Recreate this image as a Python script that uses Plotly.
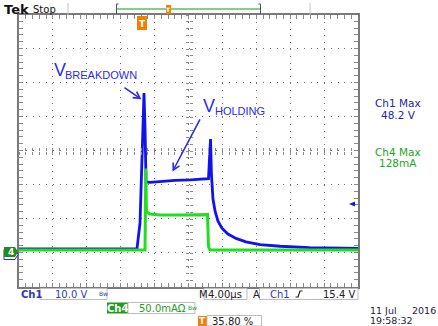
import math
import plotly.graph_objects as go

# Ch1: voltage (V) vs time (µs); 10 V/div, 4 µs/div
ch1_time_us = [-20.0, -6.08, -5.72, -5.37, -5.25, -5.13, -5.01, -4.54, -3.36, -1.59,
               0.18, 1.36, 2.36, 2.48, 2.60, 2.71, 2.89, 3.13, 3.48, 3.95,
               4.66, 5.60, 6.78, 8.44, 10.8, 14.3, 20.0]
ch1_volts = [0.35, 0.35, 8.0, 38.0, 46.2, 36.0, 20.0, 19.9, 20.2, 20.5,
             20.6, 20.8, 21.0, 27.0, 32.6, 22.0, 15.0, 11.5, 8.5, 6.4,
             4.7, 3.4, 2.4, 1.6, 1.1, 0.7, 0.45]
# Ch4: current (mA) vs time (µs); 50 mA/div
ch4_time_us = [-20.0, -5.13, -5.04, -4.96, -4.54, -3.36, -1.0, 1.36, 2.24, 2.36, 2.54, 20.0]
ch4_milliamps = [0.0, 0.0, 120.0, 56.0, 53.0, 51.5, 51.5, 51.5, 52.0, 5.0, 0.0, 0.0]

time_range_us = [-20, 20]
ch1_range_v = [-10.882, 69.118]
ch4_range_ma = [-54.41, 345.59]

readouts = {"ch1_scale": "10.0 V", "ch4_scale": "50.0mAΩ", "timebase": "4.00µs",
            "trig_level": "15.4 V", "trig_pos": "35.80 %",
            "ch1_max": "48.2 V", "ch4_max": "128mA",
            "date": "11 Jul", "year": "2016", "clock": "19:58:32"}

# ---------------- geometry helpers (pixel -> paper) ----------------
W, H = 438, 326
L, R, T, B = 19, 358, 15, 287


def px(x):
    return (x - L) / (R - L)


def py(y):
    return (B - y) / (B - T)


BLUE = "#1212ee"
GREEN = "#22dd22"
GRID = "#6e6e6e"
TICK = "#8a8a8a"
BORDER = "#7a7a7a"
DARK = "#202020"
TXTBLUE = "#2b3cb0"
TXTGREEN = "#2a9a2a"
ORANGE = "#f08000"
FONT = "DejaVu Sans"

# half a pixel in volts, so horizontal graticule dots fall on whole pixel rows
half_px_v = 0.5 * (ch1_range_v[1] - ch1_range_v[0]) / (B - T)
y_tick0 = ch1_range_v[0] + half_px_v

fig = go.Figure()
fig.add_trace(go.Scatter(x=ch1_time_us, y=ch1_volts, mode="lines",
                         line=dict(color=BLUE, width=2.8),
                         xaxis="x", yaxis="y", hoverinfo="skip"))
fig.add_trace(go.Scatter(x=ch4_time_us, y=ch4_milliamps, mode="lines",
                         line=dict(color=GREEN, width=3),
                         xaxis="x", yaxis="y2", hoverinfo="skip"))
# empty traces carrying the center crosshair tick axes
for xa, ya in [("x2", "y3"), ("x3", "y4")]:
    fig.add_trace(go.Scatter(x=[None], y=[None], xaxis=xa, yaxis=ya,
                             mode="lines", hoverinfo="skip"))

tick_style = dict(ticks="inside", ticklen=4, tickcolor=TICK, tickwidth=1,
                  showticklabels=False, zeroline=False)
cross = dict(showgrid=False, zeroline=False, showline=False, showticklabels=False,
             ticklen=3, tickcolor=TICK, anchor="free", position=0.5)

fig.update_layout(
    width=W, height=H, autosize=False,
    margin=dict(l=L, r=W - R, t=T, b=H - B, pad=0),
    paper_bgcolor="white", plot_bgcolor="white",
    showlegend=False, hovermode=False,
    xaxis=dict(range=time_range_us, tick0=0, dtick=4, showgrid=True,
               gridcolor=GRID, gridwidth=1, griddash="1px,5.8px",
               showline=True, linecolor=BORDER, linewidth=2, mirror="ticks",
               minor=dict(tick0=0, dtick=0.8, ticks="inside", ticklen=4,
                          tickcolor=TICK, showgrid=False),
               **tick_style),
    yaxis=dict(range=ch1_range_v, tick0=y_tick0, dtick=10, showgrid=True,
               gridcolor=GRID, gridwidth=1, griddash="1px,5.78px",
               showline=True, linecolor=BORDER, linewidth=2, mirror="ticks",
               minor=dict(tick0=y_tick0, dtick=2, ticks="inside", ticklen=4,
                          tickcolor=TICK, showgrid=False),
               **tick_style),
    yaxis2=dict(range=ch4_range_ma, overlaying="y", visible=False),
    xaxis2=dict(range=[-5, 5], overlaying="x", dtick=0.2, tick0=0, ticks="outside", **cross),
    xaxis3=dict(range=[-5, 5], overlaying="x", dtick=0.2, tick0=0, ticks="inside", **cross),
    yaxis3=dict(range=[-4, 4], overlaying="y", dtick=0.2, tick0=0, ticks="outside", **cross),
    yaxis4=dict(range=[-4, 4], overlaying="y", dtick=0.2, tick0=0, ticks="inside", **cross),
)

shapes = []


def line(x0, y0, x1, y1, color, width=1):
    shapes.append(dict(type="line", xref="paper", yref="paper",
                       x0=px(x0), y0=py(y0), x1=px(x1), y1=py(y1),
                       line=dict(color=color, width=width)))


def rect(x0, y0, x1, y1, line_color="#bdbdbd", fill=None, width=1):
    shapes.append(dict(type="rect", xref="paper", yref="paper",
                       x0=px(x0), y0=py(y0), x1=px(x1), y1=py(y1),
                       line=dict(color=line_color if line_color else "rgba(0,0,0,0)",
                                 width=width if line_color else 0),
                       fillcolor=fill if fill else "rgba(0,0,0,0)"))


def path(points, fill=None, line_color=None, width=1, close=True):
    d = "M" + " L".join(f"{px(x):.5f},{py(y):.5f}" for x, y in points) + (" Z" if close else "")
    shapes.append(dict(type="path", xref="paper", yref="paper", path=d,
                       fillcolor=fill if fill else "rgba(0,0,0,0)",
                       line=dict(color=line_color if line_color else "rgba(0,0,0,0)",
                                 width=width)))


def arrow(tx, ty, hx, hy, color, width=1.6, head=6.5, spread=3.6):
    dx, dy = hx - tx, hy - ty
    n = math.hypot(dx, dy)
    ux, uy = dx / n, dy / n
    nx, ny = -uy, ux
    line(tx, ty, hx, hy, color, width)
    path([(hx - head * ux + spread * nx, hy - head * uy + spread * ny), (hx, hy),
          (hx - head * ux - spread * nx, hy - head * uy - spread * ny)],
         line_color=color, width=width, close=False)


# header bar
line(68, 3, 68, 15, "#c4c4c4")
line(310, 3, 310, 15, "#c4c4c4")
line(117, 9, 260.5, 9, "#5cc05c", 1.5)
line(116.5, 4, 116.5, 14, "#505050")
line(116.5, 4, 118.5, 4, "#505050")
line(260.5, 4, 260.5, 14, "#505050")
line(260.5, 4, 258.5, 4, "#505050")
rect(166, 5, 171, 14, None, ORANGE)
# trigger position marker under top border
path([(137, 16), (147, 16), (147, 30), (137, 30)], fill=ORANGE)
# trigger level marker (right)
path([(355, 201.5), (349, 204), (355, 206.5)], fill="#1a1acc")
# channel ground markers (left)
path([(4, 249.5), (15, 249.5), (18, 254.5), (15, 259.5), (4, 259.5)], fill="white",
     line_color="#2a2ad0")
path([(4, 247), (15, 247), (18, 252), (15, 257), (4, 257)], fill="#1e8c1e")
# bottom readout boxes
rect(40, 288.5, 107, 299.5)
rect(204, 288.5, 247, 299.5)
rect(259.5, 288.5, 358, 299.5)
rect(107, 302.5, 128, 313.5, None, "#1e9a1e")
rect(128, 302.5, 195, 313.5)
rect(198, 316, 207, 326, None, ORANGE)
rect(207, 315.5, 261.5, 326)
# rising-edge symbol
path([(295.5, 297), (298, 297), (300, 291), (302.5, 291)], line_color=DARK, width=1.2, close=False)

# waveform label arrows
LBL = "#2a2af0"
arrow(124.5, 87.7, 140, 98.3, LBL)
arrow(200, 119.3, 173.3, 170, LBL)
fig.update_layout(shapes=shapes)

annotations = []


def txt(text, x, y, size=10, color=DARK, xanchor="left", family=FONT, yanchor="middle", **kw):
    annotations.append(dict(text=text, x=px(x), y=py(y), xref="paper", yref="paper",
                            xanchor=xanchor, yanchor=yanchor, showarrow=False,
                            font=dict(size=size, color=color, family=family), **kw))


# header
txt("<b>Tek</b>", 2, 9.5, size=13, color="#111111")
txt("Stop", 31, 9.5, size=10, color="#111111")
txt("<b>T</b>", 142, 24, size=9, color="white", xanchor="center")
txt("<b>T</b>", 168.5, 9.5, size=6, color="white", xanchor="center")
txt("<b>4</b>", 10.5, 252, size=9, color="white", xanchor="center")

# waveform labels
LFONT = "Liberation Sans"
txt("V", 52, 70, size=18, color=LBL, family=LFONT)
txt("BREAKDOWN", 63, 74.5, size=11, color=LBL, family=LFONT)
txt("V", 201, 106, size=18, color=LBL, family=LFONT)
txt("HOLDING", 212.5, 111.5, size=11, color=LBL, family=LFONT)

# right measurement panel
txt("Ch1 Max", 398, 103.5, size=10.5, color="#2424a8", xanchor="center")
txt(readouts["ch1_max"], 398, 114.5, size=10.5, color="#2424a8", xanchor="center")
txt("Ch4 Max", 398, 151.5, size=10.5, color="#22a622", xanchor="center")
txt(readouts["ch4_max"], 398, 162.5, size=10.5, color="#22a622", xanchor="center")

# bottom readouts
txt("<b>Ch1</b>", 19, 294, color=TXTBLUE)
txt(readouts["ch1_scale"], 53, 294, color=TXTBLUE)
txt("Bw", 96.5, 293.5, size=6, color=TXTBLUE)
txt("M", 196.5, 294)
txt(readouts["timebase"], 205.5, 294)
txt("A", 251, 294)
txt("Ch1", 267.5, 294, color=TXTBLUE)
txt(readouts["trig_level"], 356.5, 294, xanchor="right")
txt("<b>Ch4</b>", 117.5, 308, color="white", xanchor="center")
txt(readouts["ch4_scale"], 137, 308, color=TXTGREEN)
txt("Bw", 185.5, 307.5, size=6, color=TXTGREEN)
txt("<b>T</b>", 202.5, 321, size=9, color="white", xanchor="center")
txt(readouts["trig_pos"], 210, 321)
txt(readouts["date"], 368.5, 310.5, size=9.5, color="#1c1c3c", height=9.5, borderpad=0)
txt(readouts["year"], 436.5, 310.5, size=9.5, color="#1c1c3c", xanchor="right", height=9.5, borderpad=0)
txt(readouts["clock"], 368.5, 320.5, size=9.5, color="#1c1c3c", height=9.5, borderpad=0)

fig.update_layout(annotations=annotations)

fig.write_html("out.html", include_plotlyjs=True, config={"displayModeBar": False})
